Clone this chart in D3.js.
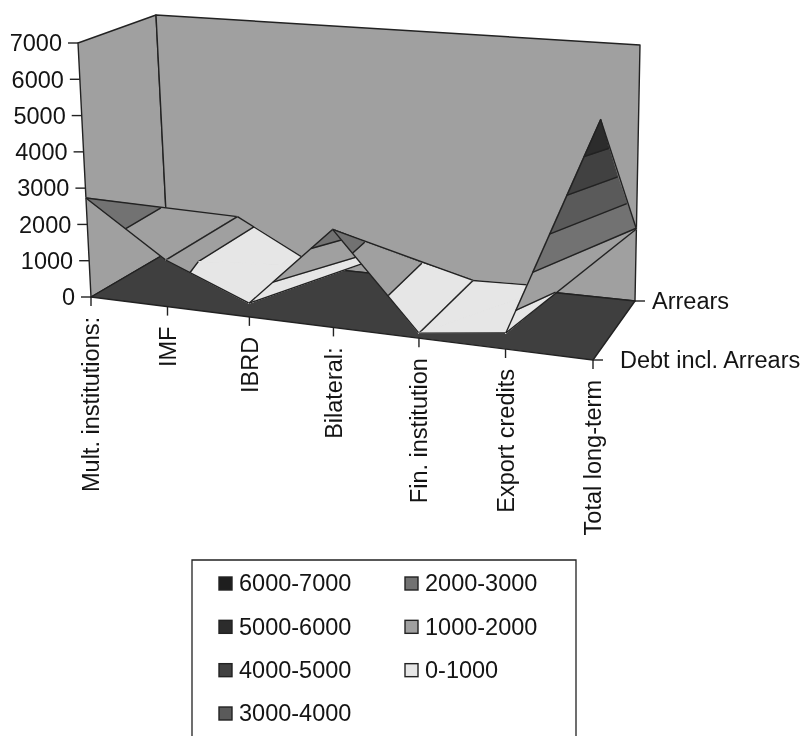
<!DOCTYPE html>
<meta charset="utf-8">
<style>
    body {margin: 0; background: #fff;}
    svg {display: block; filter: blur(0.65px);}
    text {font-family: "Liberation Sans", Arial, sans-serif; font-size: 23.5px; fill: #141414;}
</style>
<body>
<div class="chart"></div>
<script src="https://d3js.org/d3.v7.min.js"></script>
<script>

    const categories = ["Mult. institutions:", "IMF", "IBRD", "Bilateral:", "Fin. institution", "Export credits", "Total long-term"];
    const seriesNames = ["Debt incl. Arrears", "Arrears"];
    const debtInclArrears = [2730, 1260, 365, 2560, 128, 403, 5950];
    const arrears = [1000, 1250, 60, 650, 100, 150, 1970];
    const valueTicks = [0, 1000, 2000, 3000, 4000, 5000, 6000, 7000];
    const bandLevels = [0, 1000, 2000, 3000, 4000, 5000, 6000, 7000];
    const bandLabels = ["0-1000", "1000-2000", "2000-3000", "3000-4000", "4000-5000", "5000-6000", "6000-7000"];

    const bandColors = ["#e6e6e6", "#a0a0a0", "#727272", "#5a5a5a", "#414141", "#2c2c2c", "#1e1e1e"];
    const lineColor = "#222";

    const width = 804, height = 736;

    // corners of the 3d box as they land on the page: [category end][series end]
    const floorBox = [[[91, 297], [168, 252]], [[593, 360], [635, 301]]];
    const topBox = [[[78, 43], [156, 15]], [[602, 77], [640, 45]]];

    const uScale = d3.scalePow().exponent(1.05).domain([0, categories.length - 1]).range([0, 1]);
    const vScale = d3.scalePoint().domain(seriesNames).range([0, 1]);
    const zScale = d3.scaleLinear().domain([0, 7000]).range([0, 1]);

    function project(p) {
        let u = uScale(p.i), v = vScale(p.s), z = zScale(p.z);
        let out = [];
        for (let k = 0; k < 2; k++) {
            let bottom = (1 - u) * ((1 - v) * floorBox[0][0][k] + v * floorBox[0][1][k]) + u * ((1 - v) * floorBox[1][0][k] + v * floorBox[1][1][k]);
            let top = (1 - u) * ((1 - v) * topBox[0][0][k] + v * topBox[0][1][k]) + u * ((1 - v) * topBox[1][0][k] + v * topBox[1][1][k]);
            out.push(bottom + (top - bottom) * z);
        }
        return out;
    }

    // points carry their base and rise so that clipped vertices can be projected too
    function lerpPoint(a, b, t) {
        return {pt: [a.pt[0] + (b.pt[0] - a.pt[0]) * t, a.pt[1] + (b.pt[1] - a.pt[1]) * t], z: a.z + (b.z - a.z) * t, base: a.base.map((c, k) => c + (b.base[k] - c) * t), rise: a.rise.map((c, k) => c + (b.rise[k] - c) * t)};
    }

    function gridPoint(i, s, value) {
        let base = project({i: i, s: s, z: 0});
        let top = project({i: i, s: s, z: 7000});
        return {base: base, rise: [top[0] - base[0], top[1] - base[1]], z: value, pt: project({i: i, s: s, z: value})};
    }

    function toPage(p) {
        let t = zScale(p.z);
        return [p.base[0] + p.rise[0] * t, p.base[1] + p.rise[1] * t];
    }

    function clipAbove(poly, level, keepAbove) {
        let out = [];
        poly.forEach((a, n) => {
            let b = poly[(n + 1) % poly.length];
            let aIn = keepAbove ? a.z >= level : a.z <= level;
            let bIn = keepAbove ? b.z >= level : b.z <= level;
            if (aIn) out.push(a);
            if (aIn !== bIn) out.push(lerpPoint(a, b, (level - a.z) / (b.z - a.z)));
        });
        return out;
    }

    function crossing(tri, level) {
        let hits = [];
        tri.forEach((a, n) => {
            let b = tri[(n + 1) % 3];
            if ((a.z < level) !== (b.z < level)) hits.push(toPage(lerpPoint(a, b, (level - a.z) / (b.z - a.z))));
        });
        return hits;
    }

    function sideOf(a, b, c) {
        return (b[0] - a[0]) * (c[1] - a[1]) - (b[1] - a[1]) * (c[0] - a[0]);
    }

    const svg = d3.select(".chart").append("svg").attr("width", width).attr("height", height);
    const line = d3.line();
    const closed = d3.line().curve(d3.curveLinearClosed);

    // box: left wall, back wall, floor
    const corner = (c, s, z) => project({i: c ? categories.length - 1 : 0, s: seriesNames[s], z: z});
    const box = [
        {pts: [corner(0, 0, 7000), corner(0, 1, 7000), corner(0, 1, 0), corner(0, 0, 0)], fill: "#a0a0a0"},
        {pts: [corner(0, 1, 7000), corner(1, 1, 7000), corner(1, 1, 0), corner(0, 1, 0)], fill: "#a0a0a0"},
        {pts: [corner(0, 0, 0), corner(1, 0, 0), corner(1, 1, 0), corner(0, 1, 0)], fill: "#3f3f3f"}
    ];
    svg.append("g").selectAll("path").data(box).join("path")
        .attr("d", d => closed(d.pts))
        .attr("fill", d => d.fill)
        .attr("stroke", lineColor)
        .attr("stroke-width", 1.4)
        .attr("stroke-linejoin", "round");

    // surface, built cell by cell from left to right, back triangle before front one
    const surface = [];

    function addTriangle(tri) {
        bandColors.forEach((color, n) => {
            let piece = clipAbove(clipAbove(tri, bandLevels[n], true), bandLevels[n + 1], false);
            if (piece.length > 2) surface.push({d: closed(piece.map(toPage)), fill: color, stroke: color, w: 1.2});
        });
        bandLevels.slice(1, -1).forEach(level => {
            let hits = crossing(tri, level);
            if (hits.length === 2) surface.push({d: line(hits), fill: "none", stroke: lineColor, w: 1.4});
        });
    }

    function addEdge(a, b) {
        surface.push({d: line([a.pt, b.pt]), fill: "none", stroke: lineColor, w: 1.4});
    }

    d3.range(categories.length - 1).forEach(i => {
        let f0 = gridPoint(i, seriesNames[0], debtInclArrears[i]);
        let f1 = gridPoint(i + 1, seriesNames[0], debtInclArrears[i + 1]);
        let b0 = gridPoint(i, seriesNames[1], arrears[i]);
        let b1 = gridPoint(i + 1, seriesNames[1], arrears[i + 1]);

        addTriangle([f0, b0, b1]);
        addEdge(f0, b0);
        addEdge(b0, b1);
        addTriangle([f0, f1, b1]);
        addEdge(f0, f1);
        addEdge(f1, b1);

        // the diagonal only shows where the surface folds over it
        if (sideOf(f0.pt, b1.pt, f1.pt) * sideOf(f0.pt, b1.pt, b0.pt) > 0) addEdge(f0, b1);
    });

    svg.append("g").selectAll("path").data(surface).join("path")
        .attr("d", d => d.d)
        .attr("fill", d => d.fill)
        .attr("stroke", d => d.stroke)
        .attr("stroke-width", d => d.w)
        .attr("stroke-linejoin", "round");

    // value axis, runs up the front left edge
    const yAxis = svg.append("g").selectAll("g").data(valueTicks).join("g")
        .attr("transform", d => `translate(${corner(0, 0, d)})`);
    yAxis.append("line").attr("x1", -10).attr("x2", 0).attr("stroke", lineColor).attr("stroke-width", 1.4);
    yAxis.append("text").attr("x", -16).attr("dy", "0.35em").attr("text-anchor", "end").text(d => d);

    // category axis, labels turned to read upward
    const xAxis = svg.append("g").selectAll("g").data(categories).join("g")
        .attr("transform", (d, i) => `translate(${project({i: i, s: seriesNames[0], z: 0})})`);
    xAxis.append("line").attr("y2", 9).attr("stroke", lineColor).attr("stroke-width", 1.4);
    xAxis.append("text")
        .attr("transform", "translate(0,20) rotate(-90)")
        .attr("dy", "0.35em")
        .attr("text-anchor", "end")
        .text(d => d);

    // series axis at the right end of the floor
    const zAxis = svg.append("g").selectAll("g").data(seriesNames).join("g")
        .attr("transform", d => `translate(${project({i: categories.length - 1, s: d, z: 0})})`);
    zAxis.append("line").attr("x2", 10).attr("stroke", lineColor).attr("stroke-width", 1.4);
    zAxis.append("text").attr("x", (d, i) => i ? 17 : 27).attr("dy", "0.35em").text(d => d);

    // legend, box runs off the bottom of the page
    const legend = svg.append("g");
    legend.append("path")
        .attr("d", line([[192, height], [192, 560], [576, 560], [576, height]]))
        .attr("fill", "none")
        .attr("stroke", lineColor)
        .attr("stroke-width", 1.3);

    const legendItems = bandLabels.map((d, n) => ({label: d, color: bandColors[n]})).reverse();
    const rowY = d3.scalePoint().domain(d3.range(4)).range([583, 713]);
    const item = legend.selectAll("g").data(legendItems).join("g")
        .attr("transform", (d, n) => `translate(${n < 4 ? 219 : 405},${rowY(n < 4 ? n : n - 4)})`);
    item.append("rect").attr("x", 0).attr("y", -6).attr("width", 13).attr("height", 13)
        .attr("fill", d => d.color)
        .attr("stroke", lineColor)
        .attr("stroke-width", 1.4);
    item.append("text").attr("x", 20).attr("dy", "0.35em").text(d => d.label);

</script>
</body>
